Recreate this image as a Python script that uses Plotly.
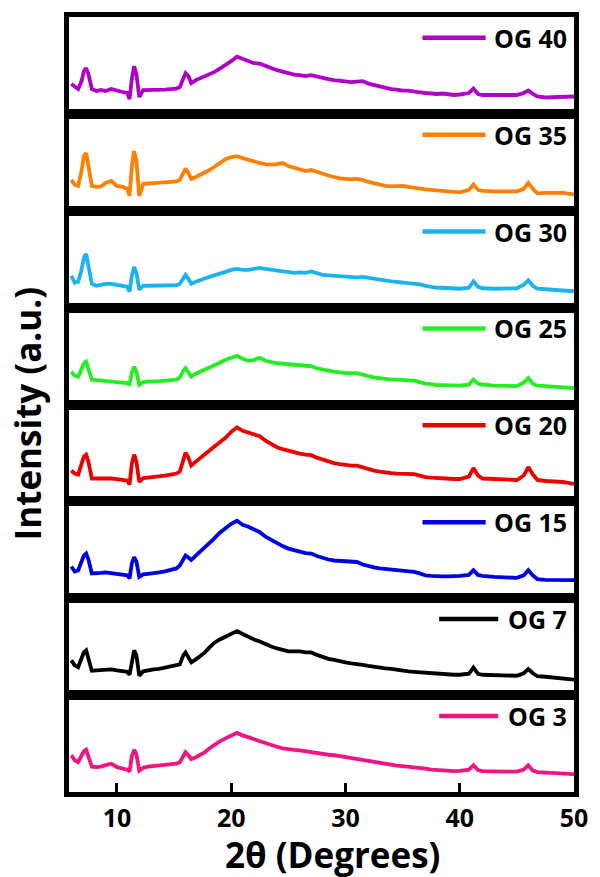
import plotly.graph_objects as go
from plotly.subplots import make_subplots

# 2-theta positions (degrees), shared by all patterns
two_theta = (
    [6.0, 6.3, 6.6, 6.9, 7.1, 7.3, 7.5, 7.8, 8.2, 8.6, 9.0, 9.5, 10.0, 10.5]
    + [10.9, 11.1, 11.3, 11.5, 11.7, 11.95, 12.3, 12.7]
    + [13.2, 13.7, 14.2, 14.7, 15.2, 15.5, 15.8, 16.0, 16.25, 16.5, 16.9, 17.3, 17.7, 18.1, 18.5]
    + [19.0, 19.5, 20.0, 20.5, 21.0, 21.5, 22.0, 22.5, 23.0, 23.5, 24.0]
    + [24.5, 25.0, 25.5, 26.0, 26.5, 27.0, 27.5, 28.0, 28.5, 29.0, 29.5, 30.0, 30.5, 31.0, 31.5, 32.0,
       32.5, 33.0, 33.5, 34.0, 34.5, 35.0, 35.5, 36.0, 36.5, 37.0, 37.5, 38.0, 38.5, 39.0, 39.5, 40.0]
    + [40.8, 41.2, 41.6, 42.0, 43.0, 44.0, 45.0, 45.6, 46.0, 46.4, 46.8, 47.5, 48.2, 49.0, 50.0]
)

labels = ["OG 40", "OG 35", "OG 30", "OG 25", "OG 20", "OG 15", "OG 7", "OG 3"]

og40 = (
    [30, 27, 25, 33, 43, 46, 40, 25, 23, 24, 23, 25, 23, 22]
    + [21, 15, 35, 48, 40, 17, 24, 24]
    + [24.5, 24, 24.5, 25, 25.5, 27, 36, 41, 38, 31, 34, 36, 37.5, 39.5, 42]
    + [45.5, 49, 53, 57.5, 55, 52.5, 51, 50.5, 48, 46, 44]
    + [42.5, 41, 39.5, 39, 38, 39, 37.5, 36, 35, 34, 33.5, 33, 32, 32.5, 33, 30.5,
       29, 27.5, 26.5, 25, 24.5, 23.5, 23.5, 22.5, 22, 21, 20.5, 20, 20.5, 19.5, 19, 19.5]
    + [21, 25.5, 20, 19, 19, 18.5, 19, 21, 23.5, 20, 17.5, 16.5, 17, 17.5, 17.5]
)
og35 = (
    [31, 26, 25, 40, 55, 58, 45, 25, 24, 24.5, 28, 30, 25, 24]
    + [22, 15, 45, 60, 50, 15, 27, 27.5]
    + [28, 28, 28.5, 29, 29.5, 31, 38, 42.5, 38, 32, 34, 36, 38, 41, 44]
    + [48, 52, 54, 55, 53, 51, 49.5, 48, 47, 46.5, 47]
    + [48, 45, 43, 41, 40, 41, 39, 37, 35.5, 34, 32.5, 32, 31.5, 32, 31, 29,
       27.5, 26.5, 25, 24.5, 25, 25, 24, 23, 22.5, 21.5, 21, 20.5, 20, 19.5, 19, 18.5]
    + [21, 26.5, 21, 20, 19.5, 19.5, 19.5, 22, 28, 22, 17.5, 18, 18, 18, 16.5]
)
og30 = (
    [32, 25, 26, 38, 50, 54, 42, 24, 22, 23, 24, 24, 23, 22]
    + [21, 16, 32, 41, 35, 18, 22, 22]
    + [22, 22, 22, 22, 22.5, 24, 30, 33, 29, 24, 26, 28, 29.5, 31, 32.5]
    + [34, 36, 38, 39, 38, 38, 39, 40, 39, 38, 37]
    + [36.5, 36, 35, 35.5, 35, 36.5, 35, 33, 32.5, 32, 31.5, 31, 31, 30.5, 31, 30,
       29, 28, 27, 26.5, 26, 25.5, 25, 24.5, 23.5, 22, 21, 20, 20, 19.5, 19.5, 19]
    + [20, 26.5, 21, 19.5, 19, 19, 19.5, 23, 27.5, 22, 19, 18.5, 18, 17.5, 16.5]
)
og25 = (
    [33, 29, 28, 36, 41, 43, 36, 25, 24.5, 24, 24, 23.5, 23, 22]
    + [21.5, 20.5, 32, 38, 33, 20, 22.5, 23]
    + [23, 23.5, 24, 24.5, 25, 27, 34, 36.5, 33, 28, 31, 33, 35, 37, 39]
    + [42, 45, 47, 49, 46, 44, 45, 47, 44, 42.5, 41.5]
    + [41, 40.5, 40.5, 40, 39, 38.5, 36.5, 35, 34, 33, 32, 31.5, 31.5, 31.5, 30, 28,
       27, 26.5, 25.5, 25, 25, 24.5, 24.5, 24, 22.5, 21, 20.5, 19.5, 19.5, 19.5, 19.5, 19]
    + [20, 25, 21, 20, 19, 18.5, 18.5, 22, 26.5, 21, 19, 18.5, 18, 17.5, 16.5]
)
og20 = (
    [31, 28, 27, 38, 45, 47, 40, 23, 23, 23.5, 23.5, 23, 22.5, 21.5]
    + [21, 17, 38, 47, 40, 19.5, 23.5, 24]
    + [24.5, 25, 26, 27, 28, 30, 42, 49, 44, 36, 40, 44, 48, 52, 55]
    + [59.5, 64, 70, 74.5, 71, 69, 67, 65.5, 61, 57.5, 54.5]
    + [52.5, 51, 49, 48, 47, 46.5, 44, 42, 40, 38.5, 37.5, 36.5, 36, 36, 34, 32,
       31, 30, 29, 28.5, 28, 28, 28, 27.5, 26, 24.5, 24, 23.5, 23.5, 23, 22.5, 22.5]
    + [25, 33.5, 26, 23, 22.5, 21.5, 21.5, 26, 34.5, 27, 21.5, 20.5, 20, 19.5, 17.5]
)
og15 = (
    [32, 27, 28, 38, 43, 45, 39, 25, 25, 25.5, 26, 25, 24, 23.5]
    + [23, 20, 35, 41.5, 37, 21.5, 24, 24.5]
    + [25, 26, 27, 28.5, 30, 33, 39, 43, 41, 38.5, 43, 47, 51, 55, 60]
    + [66, 71, 75, 78, 74, 72, 69, 66.5, 62, 58.5, 55]
    + [52.5, 50, 48, 47, 45.5, 45, 42.5, 40.5, 39, 38, 37.5, 37, 37, 36.5, 34, 32,
       31, 30, 29.5, 29, 28.5, 28, 27, 26.5, 25, 23, 22.5, 22, 22, 22, 22, 22.5]
    + [23.5, 28.3, 23.5, 22.5, 21.5, 20.7, 20.5, 23, 28.3, 23, 19.3, 18.5, 18.3, 18.3, 18.3]
)
og7 = (
    [35, 30, 28, 36, 43, 45, 38, 24.5, 25, 25.5, 26, 26, 25, 24]
    + [23.5, 20.5, 36, 45, 40, 19.5, 24, 25]
    + [26, 26.5, 27.5, 28.5, 29.5, 31, 40, 43, 38, 33, 36, 39, 43, 48, 52.5]
    + [56, 59, 62, 64.5, 61.5, 58.5, 56, 54, 51, 49, 47]
    + [45.5, 44, 44, 44, 43, 43, 40.5, 38, 36.5, 35.5, 34, 33, 32, 31.5, 30.5, 29.5,
       28.5, 28, 27, 26.5, 25.5, 25, 24, 23.5, 23, 22.5, 22, 21.5, 21, 20.5, 20.5, 20.5]
    + [21.5, 27.8, 21.5, 20.5, 20, 19.5, 19.5, 22, 26.2, 22, 19, 18.5, 17.5, 16.5, 15.5]
)
og3 = (
    [37, 32, 30, 36, 41, 42.5, 36, 25.5, 25, 25.5, 27, 28.5, 25, 23.5]
    + [22.5, 20.5, 36, 42.5, 38, 21.5, 24.5, 25.5]
    + [26, 26.5, 27, 27.5, 28.5, 30, 37, 40, 37, 33, 35, 37.5, 40, 44, 47.5]
    + [51, 54, 57, 59.5, 57, 55, 53, 51.5, 49, 47, 45.5]
    + [44, 43, 42.5, 42, 41, 40.5, 39.5, 38.5, 37.5, 37, 36, 35.5, 34, 33, 32, 31,
       30, 29.5, 28.5, 27.5, 26.5, 26, 25.5, 25, 24, 23.5, 22.5, 22, 21.5, 21.5, 21, 21.3]
    + [22.5, 27, 22, 21, 20.5, 20.5, 20.5, 22.5, 27, 21.5, 20, 19.5, 19, 18.5, 18]
)

series = [og40, og35, og30, og25, og20, og15, og7, og3]
colors = ["#B000C8", "#FF8000", "#1AB3F0", "#22EE22", "#EE0000", "#0000E6", "#000000", "#F0157F"]
x_ticks = [10, 20, 30, 40, 50]

for s in series:
    assert len(s) == len(two_theta), len(s)

n = len(series)
fig = make_subplots(rows=n, cols=1, shared_xaxes=True, vertical_spacing=0)

FONT = "Open Sans"
for i, (lab, ys, col) in enumerate(zip(labels, series, colors)):
    r = i + 1
    fig.add_trace(
        go.Scatter(x=two_theta, y=ys, mode="lines", name=lab,
                   line=dict(color=col, width=3.8), showlegend=False),
        row=r, col=1,
    )
    sfx = "" if r == 1 else str(r)
    # legend-like sample line + label inside each panel
    short = len(lab) <= 4
    x0, x1 = (0.733, 0.850) if short else (0.700, 0.825)
    fig.add_shape(type="line", xref=f"x{sfx} domain", yref=f"y{sfx} domain",
                  x0=x0, x1=x1, y0=0.785, y1=0.785,
                  line=dict(color=col, width=4.5))
    fig.add_annotation(text=lab, xref=f"x{sfx} domain", yref=f"y{sfx} domain",
                       x=0.99, y=0.785, xanchor="right", yanchor="middle",
                       showarrow=False,
                       font=dict(family=FONT, size=25, color="black", weight="bold"))

fig.update_yaxes(range=[0, 97.5], showticklabels=False, ticks="", showgrid=False,
                 zeroline=False, showline=True, mirror=True, linecolor="black",
                 linewidth=4.5)
fig.update_xaxes(range=[5.8, 50], showgrid=False, zeroline=False, showline=True,
                 mirror=True, linecolor="black", linewidth=4.5,
                 showticklabels=False, ticks="")
fig.update_xaxes(row=n, col=1, showticklabels=True, ticks="inside", ticklen=9,
                 tickwidth=3, tickcolor="black", tickvals=x_ticks,
                 tickfont=dict(family=FONT, size=25, color="black", weight="bold"))

fig.add_annotation(text="Intensity (a.u.)", xref="paper", yref="paper",
                   x=-0.082, y=0.488, textangle=-90, showarrow=False,
                   xanchor="center", yanchor="middle",
                   font=dict(family=FONT, size=35, color="black", weight="bold"))
fig.add_annotation(text="2θ (Degrees)", xref="paper", yref="paper",
                   x=0.522, y=-0.0805, showarrow=False,
                   xanchor="center", yanchor="middle",
                   font=dict(family=FONT, size=35, color="black", weight="bold"))

fig.update_layout(width=600, height=877, plot_bgcolor="white", paper_bgcolor="white",
                  margin=dict(l=69, r=16, t=12, b=85), showlegend=False)

fig.write_html(
    "out.html",
    config={"displayModeBar": False, "responsive": False},
    post_script="document.body.style.margin='0px';document.body.style.overflow='hidden';",
)
